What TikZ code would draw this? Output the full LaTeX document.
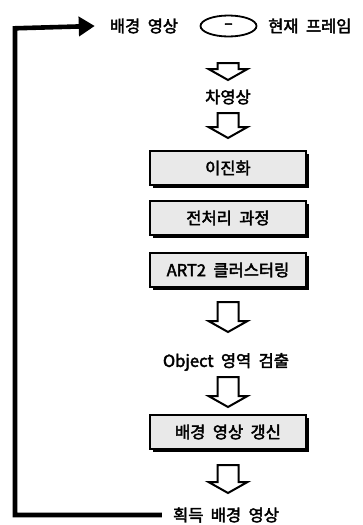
\documentclass[tikz,border=0pt]{standalone}
\usepackage{fontspec}
\setmainfont[FakeBold=2.5,WordSpace=2]{Noto Sans CJK KR}
\usetikzlibrary{shapes.geometric,shadows,arrows.meta,calc}
\tikzset{
  lbl/.style={inner sep=0pt,font=\fontsize{16.5}{18}\selectfont},
  stepbox/.style={draw=black,line width=2pt,fill=gray!17,minimum width=156pt,minimum height=34pt,inner sep=0pt,
    drop shadow={fill=black,opacity=1,shadow xshift=3pt,shadow yshift=-3pt},font=\fontsize{16.5}{18}\selectfont},
  harrow/.style={draw=black,line width=2pt,fill=white,line join=miter},
  feedback/.style={line width=4.6pt,-{Triangle[length=16pt,width=19pt]}},
}
\newcommand\hollowdown[3]{% x, top y, tip y (pixel units, y downward)
  \draw[harrow] (#1-10.5,#2) -- (#1+10.5,#2) -- (#1+10.5,#3-11) -- (#1+19.5,#3-11) -- (#1,#3) -- (#1-19.5,#3-11) -- (#1-10.5,#3-11) -- cycle;}
\begin{document}
\begin{tikzpicture}[x=1pt,y=-1pt]
\useasboundingbox (0,0) rectangle (363,525);
\node[lbl] (bg) at (144,26) {배경 영상};
\node[draw,ellipse,line width=1.8pt,minimum width=56pt,minimum height=21pt,inner sep=0pt,font=\fontsize{15}{17}\selectfont] (sub) at (228.5,26) {–};
\node[lbl,anchor=west] (cur) at (268,26) {현재 프레임};
\node[lbl] (diff) at (228,97) {차영상};
\node[stepbox] (b1) at (228,168) {이진화};
\node[stepbox] (b2) at (228,218) {전처리 과정};
\node[stepbox] (b3) at (228,270) {ART2 클러스터링};
\node[lbl] (obj) at (226,362) {Object 영역 검출};
\node[stepbox] (b4) at (228,432) {배경 영상 갱신};
\node[lbl] (acq) at (226,515) {획득 배경 영상};
\coordinate (corner) at (15,26);
\hollowdown{228}{63}{80}
\hollowdown{228}{113}{138}
\hollowdown{228}{302}{332}
\hollowdown{228}{377}{407}
\hollowdown{228}{465}{493}
\draw[feedback,line cap=butt] ([xshift=-11pt]acq.west) -| ([yshift=-2.3pt]corner) -- ([xshift=-15pt]bg.west);
\end{tikzpicture}
\end{document}
